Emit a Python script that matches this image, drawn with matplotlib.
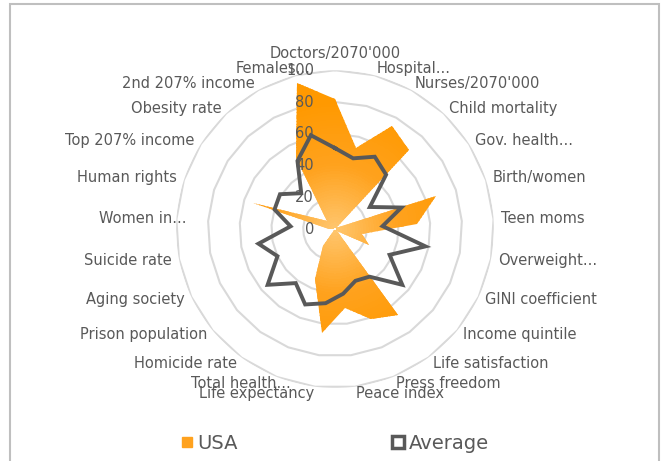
import matplotlib
matplotlib.use('Agg')
import matplotlib.pyplot as plt
import numpy as np
from matplotlib.colors import LinearSegmentedColormap
from matplotlib.lines import Line2D
from matplotlib.patches import Rectangle


categories = ["Doctors/2070'000", "Hospital...", "Nurses/2070'000", "Child mortality",
              "Gov. health...", "Birth/women", "Teen moms", "Overweight...",
              "GINI coefficient", "Income quintile", "Life satisfaction", "Press freedom",
              "Peace index", "Life expectancy", "Total health...", "Homicide rate",
              "Prison population", "Aging society", "Suicide rate", "Women in...",
              "Human rights", "Top 207% income", "Obesity rate", "2nd 207% income",
              "Females..."]
usa = [82, 53, 74, 68, 1, 67, 52, 17, 24, 2, 67, 61, 50, 66, 34, 13, 0, 0, 0, 4,
       54, 12, 7, 51, 95]
average = [51, 46, 52, 47, 26, 44, 30, 58, 38, 55, 37, 35, 41, 47, 51, 42, 55, 40, 49, 28,
           40, 41, 31, 49, 61]
rings = [20, 40, 60, 80, 100]

grey_text = '#595959'
font = 'DejaVu Sans'

n = len(categories)
theta = np.arange(n) * 2 * np.pi / n
theta_c = np.append(theta, theta[0])

fig = plt.figure(figsize=(6.62, 4.61), dpi=100)
ax = fig.add_axes([0.266, 0.158, 0.480, 0.690], projection='polar')
ax.set_theta_zero_location('N')
ax.set_theta_direction(-1)
ax.set_ylim(0, 100)
ax.grid(False)
ax.spines['polar'].set_visible(False)
ax.set_xticks([])
ax.set_yticks([])
ax.patch.set_alpha(0)

# polygon gridlines like Excel
for r in rings:
    ax.plot(theta_c, [r] * (n + 1), color='#d9d9d9', lw=1.5, zorder=1)

# USA area with radial gradient
usa_c = usa + usa[:1]
poly = ax.fill(theta_c, usa_c, facecolor='none', edgecolor='none', zorder=2)[0]
cmap = LinearSegmentedColormap.from_list('orange', ['#ffc66e', '#ffa21e', '#ff9900'])
tg, rg = np.meshgrid(np.linspace(0, 2 * np.pi, 200), np.linspace(0, 100, 60))
mesh = ax.pcolormesh(tg, rg, rg, cmap=cmap, vmin=0, vmax=80, shading='auto', zorder=2)
mesh.set_clip_path(poly)

# average line
avg_c = average + average[:1]
ax.plot(theta_c, avg_c, color=grey_text, lw=2.8, zorder=3, solid_joinstyle='miter')

# value labels
for v in [0] + rings:
    ax.annotate(str(v), xy=(0, v), xytext=(-21, 0), textcoords='offset pixels',
                ha='right', va='center', color=grey_text, fontsize=10.5,
                family=font, zorder=4, annotation_clip=False)

# category labels
for i, (t, lab) in enumerate(zip(theta, categories)):
    s = np.sin(t)
    dx = 0
    if abs(s) < 0.05:
        ha = 'center'
    elif s > 0:
        ha = 'left'
    else:
        ha = 'right'
        if lab.endswith('...'):
            dx = 17
    va = 'center'
    r = 104.5
    if i == 0:
        va = 'bottom'
        r = 106
    ax.annotate(lab, xy=(t, r), xytext=(dx, 0), textcoords='offset pixels',
                ha=ha, va=va, color=grey_text, fontsize=10.5, family=font,
                annotation_clip=False)

# legend, two entries placed like Excel spreads them
usa_h = Line2D([], [], marker='s', ls='none', markersize=7.5, markerfacecolor='#ffa21e',
               markeredgecolor='#ffa21e')
avg_h = Line2D([], [], marker='s', ls='none', markersize=8, markerfacecolor='white',
               markeredgecolor=grey_text, markeredgewidth=2.5)
for h, lab, x in [(usa_h, 'USA', 0.272), (avg_h, 'Average', 0.591)]:
    leg = fig.legend([h], [lab], loc='center left', bbox_to_anchor=(x, 0.039),
                     frameon=False, handlelength=0.7, handletextpad=0.2,
                     borderpad=0, borderaxespad=0, prop={'family': font, 'size': 14})
    for t in leg.get_texts():
        t.set_color(grey_text)

# chart frame
fig.patches.append(Rectangle((10 / 662, -0.02), 649 / 662, 1.02 - 4 / 461,
                             transform=fig.transFigure, fill=False,
                             edgecolor='#bfbfbf', lw=1.5))

fig.savefig('out.png', dpi=100)
